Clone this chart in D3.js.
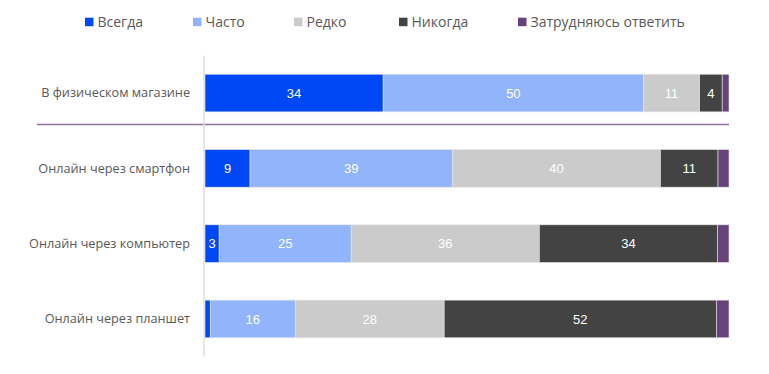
<!DOCTYPE html>
<html>
<head>
<meta charset="utf-8">
<script src="https://cdn.jsdelivr.net/npm/d3@7"></script>
<style>
  body { margin: 0; background: #fff; }
  svg { display: block; }
</style>
</head>
<body>
<div id="viz"></div>
<script>
// data (shares, %; labels are rounded values)
var categories = ['В физическом магазине', 'Онлайн через смартфон', 'Онлайн через компьютер', 'Онлайн через планшет'];
var seriesNames = ['Всегда', 'Часто', 'Редко', 'Никогда', 'Затрудняюсь ответить'];
var always = [34, 8.6, 2.7, 1.0];
var often = [49.7, 38.7, 25.2, 16.2];
var rarely = [10.7, 39.7, 35.9, 28.4];
var never = [4.3, 11.0, 34, 51.9];
var unsure = [1.3, 2.1, 2.2, 2.4];
var colors = ['#0047f5', '#91b4fb', '#cbcbcb', '#434343', '#67437a'];

var width = 769, height = 374;
var svg = d3.select('#viz').append('svg')
  .attr('width', width)
  .attr('height', height);

var rows = categories.map(function(c, i) {
  var r = { name: c };
  r[seriesNames[0]] = always[i];
  r[seriesNames[1]] = often[i];
  r[seriesNames[2]] = rarely[i];
  r[seriesNames[3]] = never[i];
  r[seriesNames[4]] = unsure[i];
  return r;
});

var stacked = d3.stack()
  .keys(seriesNames)
  .offset(d3.stackOffsetExpand)(rows);

var x = d3.scaleLinear().domain([0, 1]).range([205, 729]);
var y = d3.scaleBand()
  .domain(categories)
  .range([55.4, 356.6])
  .paddingInner(0.5)
  .paddingOuter(0.25);
var color = d3.scaleOrdinal().domain(seriesNames).range(colors);

// separator between the offline row and the online rows
var sepY = y(categories[0]) + y.bandwidth() + (y.step() - y.bandwidth()) / 3;
svg.append('line')
  .attr('x1', 37).attr('x2', 729)
  .attr('y1', sepY).attr('y2', sepY)
  .style('stroke', '#8f6f9c')
  .style('stroke-width', 1.5);

// bars
var layer = svg.selectAll('g.layer')
  .data(stacked)
  .enter().append('g')
  .attr('class', 'layer')
  .style('fill', function(d) { return color(d.key); });

layer.selectAll('rect')
  .data(function(d) { return d; })
  .enter().append('rect')
  .attr('x', function(d) { return x(d[0]); })
  .attr('y', function(d) { return y(d.data.name); })
  .attr('width', function(d) { return x(d[1]) - x(d[0]); })
  .attr('height', y.bandwidth())
  .style('stroke', '#e6e6e6')
  .style('stroke-width', 0.6);

// value labels
layer.selectAll('text')
  .data(function(d) { return d.filter(function(p) { return p.data[d.key] >= 2.5; }).map(function(p) { p.key = d.key; return p; }); })
  .enter().append('text')
  .attr('x', function(d) { return (x(d[0]) + x(d[1])) / 2; })
  .attr('y', function(d) { return y(d.data.name) + y.bandwidth() / 2; })
  .attr('dy', '0.35em')
  .attr('text-anchor', 'middle')
  .style('fill', '#fff')
  .style('font-family', 'Liberation Sans, Arial, sans-serif')
  .style('font-size', '13px')
  .text(function(d) { return d3.format('.0f')(d.data[d.key]); });

// vertical axis line
svg.append('line')
  .attr('x1', 204).attr('x2', 204)
  .attr('y1', y.range()[0]).attr('y2', y.range()[1])
  .style('stroke', '#dedede')
  .style('stroke-width', 1.5);

// category labels
svg.selectAll('text.cat')
  .data(categories)
  .enter().append('text')
  .attr('class', 'cat')
  .attr('x', 190)
  .attr('y', function(d) { return y(d) + y.bandwidth() / 2; })
  .attr('dy', '0.35em')
  .attr('text-anchor', 'end')
  .style('fill', '#595959')
  .style('font-family', 'Open Sans, sans-serif')
  .style('font-size', '12.7px')
  .text(function(d) { return d; });

// legend
var legendX = [85, 193, 294, 399, 518];
var legend = svg.selectAll('g.legend')
  .data(seriesNames)
  .enter().append('g')
  .attr('class', 'legend')
  .attr('transform', function(d, i) { return 'translate(' + legendX[i] + ',22)'; });

legend.append('rect')
  .attr('x', 0).attr('y', -4.3)
  .attr('width', 8.5).attr('height', 8.5)
  .style('fill', function(d) { return color(d); });

legend.append('text')
  .attr('x', 12.5)
  .attr('dy', '0.35em')
  .style('fill', '#595959')
  .style('font-family', 'Open Sans, sans-serif')
  .style('font-size', '14px')
  .text(function(d) { return d; });
</script>
</body>
</html>
